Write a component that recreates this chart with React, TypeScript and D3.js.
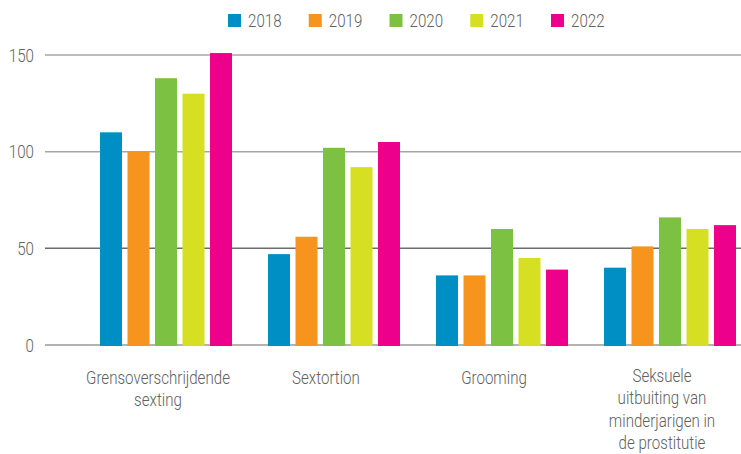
import React from "react";
import * as d3 from "d3";

const categories: string[][] = [
  ["Grensoverschrijdende", "sexting"],
  ["Sextortion"],
  ["Grooming"],
  ["Seksuele", "uitbuiting van", "minderjarigen in", "de prostitutie"],
];
const years = ["2018", "2019", "2020", "2021", "2022"];
const v2018 = [110, 47, 36, 40];
const v2019 = [100, 56, 36, 51];
const v2020 = [138, 102, 60, 66];
const v2021 = [130, 92, 45, 60];
const v2022 = [151, 105, 39, 62];
const series = [v2018, v2019, v2020, v2021, v2022];
const colors = ["#008fc5", "#f7941d", "#7dc142", "#d7df23", "#ec008c"];
const yTicks = [0, 50, 100, 150];

const W = 741;
const H = 454;
const FONT = "Roboto, 'Liberation Sans', sans-serif";
const TEXT = "#606060";
const SX = 0.84;

function CText(props: {
  x: number;
  y: number;
  anchor: "start" | "middle" | "end";
  lines: string[];
  dy?: string;
  lh?: number;
}) {
  const { x, y, anchor, lines, dy, lh = 22.5 } = props;
  return (
    <g transform={`translate(${x},${y}) scale(${SX},1)`}>
      <text x={0} y={0} dy={dy} textAnchor={anchor} fontSize={18} fontWeight={300} fill={TEXT}>
        {lines.map((l, i) => (
          <tspan key={i} x={0} dy={i === 0 ? 0 : lh}>
            {l}
          </tspan>
        ))}
      </text>
    </g>
  );
}

export default function App() {
  const catKeys = categories.map((c) => c.join(" "));
  const y = d3.scaleLinear().domain([0, 150]).range([345, 55]);
  const x0 = d3.scaleBand<string>().domain(catKeys).range([82, 754]);
  const x1 = d3
    .scaleBand<string>()
    .domain(years)
    .range([0, x0.bandwidth()])
    .paddingInner(0.2)
    .paddingOuter(0.655);
  const legend = d3.scalePoint<string>().domain(years).range([228, 551]);
  const gridColor = (t: number) => (t === 50 ? "#6d6d6d" : t === 0 ? "#9a9a9a" : "#a6a6a6");

  return (
    <svg
      width={W}
      height={H}
      style={{ position: "absolute", left: 0, top: 0, background: "#fff" }}
      fontFamily={FONT}
    >
      {yTicks.map((t) => (
        <g key={t}>
          <line x1={45} x2={W} y1={y(t)} y2={y(t)} stroke={gridColor(t)} strokeWidth={1.5} />
          <CText x={34} y={y(t) + 6.5} anchor="end" lines={[String(t)]} />
        </g>
      ))}
      {catKeys.map((c, ci) => (
        <g key={c} transform={`translate(${x0(c)},0)`}>
          {years.map((yr, si) => {
            const v = series[si][ci];
            return (
              <rect
                key={yr}
                x={x1(yr)}
                y={y(v)}
                width={x1.bandwidth()}
                height={y(0) - y(v) + 1}
                fill={colors[si]}
              />
            );
          })}
          <CText
            x={x0.bandwidth() / 2 - 8}
            y={categories[ci].length > 2 ? 382 : 384}
            anchor="middle"
            lines={categories[ci]}
          />
        </g>
      ))}
      {years.map((yr, i) => (
        <g key={yr} transform={`translate(${legend(yr)},14)`}>
          <rect width={13} height={13} fill={colors[i]} />
          <CText x={20} y={13} anchor="start" lines={[yr]} />
        </g>
      ))}
    </svg>
  );
}
